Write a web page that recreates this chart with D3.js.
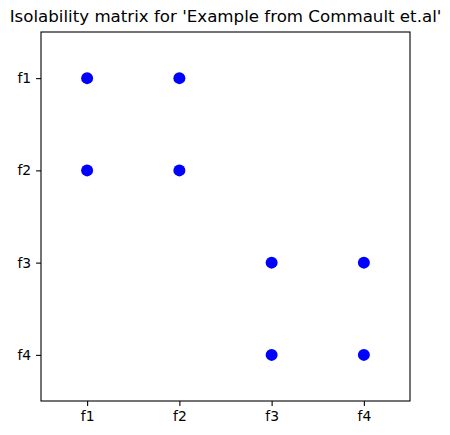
<!DOCTYPE html>
<html lang="en">
<head>
    <meta charset="UTF-8">
    <title>Isolability matrix</title>
    <script src="https://d3js.org/d3.v7.min.js"></script>
    <style>
        body { margin: 0; background: #fff; }
        text { font-family: "DejaVu Sans", sans-serif; }
    </style>
</head>
<body>
    <svg width="450" height="435"></svg>

    <script>
        // Fault labels and isolability matrix (1 = fault pair not isolable)
        const faults = ["f1", "f2", "f3", "f4"];
        const matrix = [
            [1, 1, 0, 0],
            [1, 1, 0, 0],
            [0, 0, 1, 1],
            [0, 0, 1, 1]
        ];
        const title = "Isolability matrix for 'Example from Commault et.al'";

        const width = 450;
        const height = 435;
        const margin = { top: 32, right: 40, bottom: 34, left: 41 };

        const points = [];
        matrix.forEach((row, i) => row.forEach((v, j) => {
            if (v) points.push({ row: i, col: j });
        }));

        const xScale = d3.scaleLinear()
            .domain([-0.5, faults.length - 0.5])
            .range([margin.left, width - margin.right]);

        const yScale = d3.scaleLinear()
            .domain([-0.5, faults.length - 0.5])
            .range([margin.top, height - margin.bottom]);

        const svg = d3.select("svg");

        // X axis
        const xAxis = svg.append("g")
            .attr("transform", `translate(0, ${height - margin.bottom})`)
            .call(d3.axisBottom(xScale)
                .tickValues(d3.range(faults.length))
                .tickFormat(i => faults[i])
                .tickSize(4.9)
                .tickPadding(4.9));

        // Y axis
        const yAxis = svg.append("g")
            .attr("transform", `translate(${margin.left}, 0)`)
            .call(d3.axisLeft(yScale)
                .tickValues(d3.range(faults.length))
                .tickFormat(i => faults[i])
                .tickSize(4.9)
                .tickPadding(4.9));

        [xAxis, yAxis].forEach(g => {
            g.select(".domain").remove();
            g.selectAll("text").attr("font-size", 13.9).attr("fill", "#000")
                .attr("font-family", "DejaVu Sans, sans-serif");
            g.selectAll("line").attr("stroke", "#000").attr("stroke-width", 1.1);
        });

        // Frame
        svg.append("rect")
            .attr("x", margin.left)
            .attr("y", margin.top)
            .attr("width", width - margin.left - margin.right)
            .attr("height", height - margin.top - margin.bottom)
            .attr("fill", "none")
            .attr("stroke", "#000")
            .attr("stroke-width", 1.1);

        // Dots
        svg.append("g")
            .selectAll("circle")
            .data(points)
            .join("circle")
            .attr("cx", d => xScale(d.col))
            .attr("cy", d => yScale(d.row))
            .attr("r", 6)
            .attr("fill", "#0000ff");

        // Title
        svg.append("text")
            .attr("x", (margin.left + width - margin.right) / 2)
            .attr("y", 22)
            .attr("text-anchor", "middle")
            .attr("font-size", 16.67)
            .attr("fill", "#000")
            .text(title);
    </script>
</body>
</html>
